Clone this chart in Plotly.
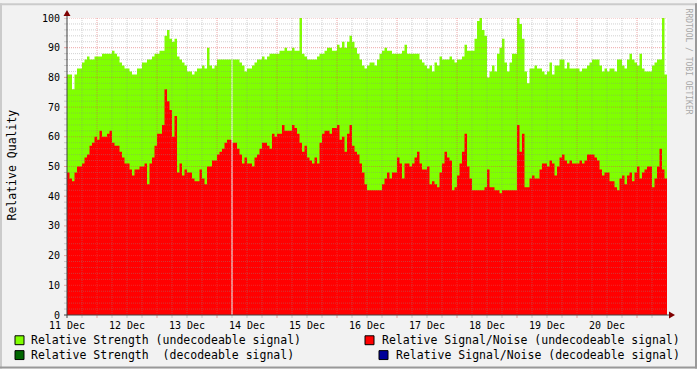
import pandas as pd
import plotly.graph_objects as go

# ---------------- data (hourly, starting 11 Dec 00:00) ----------------
start_time = "2009-12-11 00:00"
end_time = "2009-12-21 00:00"

strength_undecodeable = [
    81, 81, 76, 81, 83, 83, 85, 86, 87, 86, 86, 87, 87, 87, 88, 88, 88, 88, 89, 88, 87, 85, 84, 83,
    83, 82, 81, 81, 83, 83, 85, 85, 86, 86, 87, 88, 88, 89, 89, 94, 96, 93, 92, 93, 87, 86, 85, 84,
    82, 82, 81, 82, 83, 83, 84, 83, 90, 84, 83, 84, 86, 86, 86, 86, 86, 86, 86, 86, 86, 85, 84, 82,
    83, 83, 84, 85, 86, 86, 87, 86, 87, 88, 88, 88, 88, 89, 89, 90, 89, 89, 90, 89, 89, 100, 88, 87,
    86, 86, 86, 86, 87, 88, 88, 89, 90, 90, 89, 89, 91, 90, 92, 90, 92, 94, 92, 90, 88, 86, 84, 83,
    84, 85, 85, 84, 86, 88, 89, 90, 89, 89, 88, 88, 88, 88, 89, 91, 88, 88, 88, 88, 88, 86, 85, 84,
    83, 84, 82, 85, 84, 87, 86, 86, 86, 87, 86, 85, 86, 86, 87, 91, 89, 89, 89, 93, 99, 100, 96, 94,
    80, 82, 84, 82, 88, 90, 93, 85, 82, 85, 88, 88, 100, 98, 93, 82, 78, 83, 83, 84, 83, 83, 82, 81,
    82, 85, 81, 84, 84, 86, 86, 83, 85, 83, 83, 83, 83, 82, 83, 83, 84, 85, 86, 86, 86, 84, 82, 83,
    82, 83, 83, 82, 86, 86, 84, 83, 86, 88, 86, 85, 84, 88, 83, 82, 82, 82, 84, 85, 86, 86, 100, 81,
]

snr_undecodeable = [
    48, 46, 45, 48, 50, 50, 51, 53, 54, 57, 58, 60, 59, 62, 60, 60, 61, 62, 58, 57, 57, 55, 53, 51,
    51, 49, 47, 49, 49, 50, 50, 51, 44, 51, 53, 57, 61, 61, 64, 76, 72, 69, 60, 67, 48, 51, 47, 49,
    48, 48, 46, 45, 45, 49, 46, 44, 50, 50, 52, 52, 54, 55, 56, 58, 59, 59, 58, 58, 56, 54, 51, 53,
    51, 51, 50, 53, 54, 56, 58, 58, 57, 56, 61, 60, 61, 61, 64, 62, 62, 62, 64, 63, 61, 58, 55, 57,
    53, 52, 51, 53, 51, 58, 61, 62, 62, 61, 63, 63, 64, 59, 60, 55, 61, 64, 57, 55, 54, 51, 48, 44,
    42, 42, 42, 42, 42, 42, 44, 46, 48, 46, 48, 48, 53, 51, 46, 51, 51, 50, 51, 53, 55, 51, 49, 49,
    50, 44, 45, 44, 43, 48, 51, 55, 53, 52, 42, 43, 47, 51, 55, 61, 50, 46, 42, 42, 42, 42, 42, 43,
    49, 43, 43, 42, 42, 41, 42, 42, 42, 42, 42, 42, 64, 55, 61, 43, 43, 46, 47, 46, 46, 49, 51, 51,
    50, 52, 51, 47, 50, 53, 54, 52, 51, 52, 51, 51, 51, 52, 51, 52, 54, 54, 54, 53, 52, 49, 47, 48,
    48, 45, 45, 43, 42, 46, 47, 44, 47, 48, 45, 48, 50, 46, 48, 49, 50, 50, 43, 46, 50, 56, 49, 46,
]

strength_decodeable = []   # no decodeable samples in this period
snr_decodeable = []

gap_times = ["2009-12-13 18:00"]   # missing sample (white line)

day_ticks = ["2009-12-%02d" % d for d in range(11, 21)]
day_labels = ["11 Dec", "12 Dec", "13 Dec", "14 Dec", "15 Dec",
              "16 Dec", "17 Dec", "18 Dec", "19 Dec", "20 Dec"]
y_ticks = [0, 10, 20, 30, 40, 50, 60, 70, 80, 90, 100]

legend_names = [
    "Relative Strength (undecodeable signal)",
    "Relative Strength\u00a0\u00a0(decodeable signal)",
    "Relative Signal/Noise (undecodeable signal)",
    "Relative Signal/Noise (decodeable signal)",
]
legend_colors = ["#80FF00", "#006600", "#FF0000", "#000099"]

# ---------------- layout geometry ----------------
W, H = 697, 369
L, R, T, B = 67, 30, 15, 54
PW, PH = W - L - R, H - T - B
FONT = "DejaVu Sans Mono"


def px(x):
    return (x - L) / PW


def py(y):
    return 1 - (y - T) / PH


times = list(pd.date_range(start_time, periods=len(strength_undecodeable) + 1, freq="h"))


def step(vals):
    return list(vals) + [vals[-1]]


fig = go.Figure()
fig.add_trace(go.Scatter(x=times, y=step(strength_undecodeable), mode="lines",
                         line=dict(width=0, shape="hv"), fill="tozeroy",
                         fillcolor=legend_colors[0], hoverinfo="skip",
                         name=legend_names[0], showlegend=False))
fig.add_trace(go.Scatter(x=times[:len(strength_decodeable)], y=strength_decodeable, mode="lines",
                         line=dict(width=0, shape="hv"), fill="tozeroy",
                         fillcolor=legend_colors[1], name=legend_names[1], showlegend=False))
fig.add_trace(go.Scatter(x=times, y=step(snr_undecodeable), mode="lines",
                         line=dict(width=0, shape="hv"), fill="tozeroy",
                         fillcolor=legend_colors[2], hoverinfo="skip",
                         name=legend_names[2], showlegend=False))
fig.add_trace(go.Scatter(x=times[:len(snr_decodeable)], y=snr_decodeable, mode="lines",
                         line=dict(width=0, shape="hv"), fill="tozeroy",
                         fillcolor=legend_colors[3], name=legend_names[3], showlegend=False))

shapes = []
# missing-data gap
for g in gap_times:
    idx = times.index(pd.Timestamp(g)) if pd.Timestamp(g) in times else 0
    shapes.append(dict(type="line", xref="x", yref="y", x0=g, x1=g, y0=0,
                       y1=strength_undecodeable[idx], line=dict(color="white", width=1),
                       layer="above"))

MINOR = "rgba(140,140,140,0.40)"
MAJOR = "rgba(222,80,80,0.50)"
# vertical grid every 6 h, major at noon
for t in pd.date_range(start_time, end_time, freq="6h")[1:-1]:
    col = MAJOR if t.hour == 12 else MINOR
    shapes.append(dict(type="line", xref="x", yref="y", x0=t, x1=t, y0=0, y1=100,
                       line=dict(color=col, width=1, dash="1px,1px"), layer="above"))
    shapes.append(dict(type="line", xref="x", yref="paper", x0=t, x1=t, y0=py(315), y1=py(318),
                       line=dict(color=col, width=1), layer="above"))
# horizontal grid every 2, major every 10
for v in range(2, 101, 2):
    col = MAJOR if v % 10 == 0 else MINOR
    shapes.append(dict(type="line", xref="paper", yref="y", x0=0, x1=1, y0=v, y1=v,
                       line=dict(color=col, width=1, dash="1px,1px"), layer="above"))
    shapes.append(dict(type="line", xref="paper", yref="y", x0=px(64), x1=px(67), y0=v, y1=v,
                       line=dict(color=col, width=1), layer="above"))

AX = "#404040"
shapes.append(dict(type="line", xref="paper", yref="paper", x0=0, x1=0, y0=py(318), y1=py(11),
                   line=dict(color=AX, width=1), layer="above"))
shapes.append(dict(type="line", xref="paper", yref="paper", x0=px(64), x1=px(670), y0=0, y1=0,
                   line=dict(color=AX, width=1), layer="above"))
ARROW = "#7F0000"
shapes.append(dict(type="path", xref="paper", yref="paper",
                   path="M %f,%f L %f,%f L %f,%f Z" % (px(67), py(7), px(63.5), py(13), px(70.5), py(13)),
                   fillcolor=ARROW, line=dict(width=0), layer="above"))
shapes.append(dict(type="path", xref="paper", yref="paper",
                   path="M %f,%f L %f,%f L %f,%f Z" % (px(675), py(315), px(669), py(311.5), px(669), py(318.5)),
                   fillcolor=ARROW, line=dict(width=0), layer="above"))

# frame
shapes.append(dict(type="rect", xref="paper", yref="paper", x0=px(0), x1=px(W), y0=py(0), y1=py(2),
                   fillcolor="#CBCBCB", line=dict(width=0)))
shapes.append(dict(type="rect", xref="paper", yref="paper", x0=px(0), x1=px(2), y0=py(0), y1=py(H),
                   fillcolor="#CBCBCB", line=dict(width=0)))
shapes.append(dict(type="rect", xref="paper", yref="paper", x0=px(W - 2), x1=px(W), y0=py(0), y1=py(H),
                   fillcolor="#999999", line=dict(width=0)))
shapes.append(dict(type="rect", xref="paper", yref="paper", x0=px(0), x1=px(W), y0=py(H - 2), y1=py(H),
                   fillcolor="#999999", line=dict(width=0)))

annotations = []
# legend
leg_pos = [  # (square left, square top, text x, anchor)
    (15, 336, 30, "left"),
    (15, 351, 30, "left"),
    (365, 336, 681, "right"),
    (379, 351, 681, "right"),
]
for name, col, (sx, sy, tx, anc) in zip(legend_names, legend_colors, leg_pos):
    shapes.append(dict(type="rect", xref="paper", yref="paper", x0=px(sx), x1=px(sx + 9),
                       y0=py(sy), y1=py(sy + 9), fillcolor=col,
                       line=dict(color="black", width=1)))
    annotations.append(dict(text=name, xref="paper", yref="paper", x=px(tx), y=py(sy + 4.5),
                            xanchor=anc, yanchor="middle", showarrow=False, borderpad=0,
                            font=dict(family=FONT, size=11.5, color="black")))

annotations.append(dict(text="Relative Quality", xref="paper", yref="paper", x=px(12), y=py(164),
                        textangle=-90, xanchor="center", yanchor="middle", showarrow=False,
                        font=dict(family=FONT, size=11.5, color="black")))
annotations.append(dict(text="RRDTOOL / TOBI OETIKER", xref="paper", yref="paper", x=px(688), y=py(59),
                        textangle=90, xanchor="center", yanchor="middle", showarrow=False,
                        font=dict(family=FONT, size=8, color="#A8A8A8")))

fig.update_layout(
    width=W, height=H,
    margin=dict(l=L, r=R, t=T, b=B, pad=0),
    paper_bgcolor="#F2F2F2", plot_bgcolor="white",
    showlegend=False,
    shapes=shapes, annotations=annotations,
    xaxis=dict(type="date", range=[start_time, end_time], showgrid=False, zeroline=False,
               showline=False, tickvals=day_ticks, ticktext=day_labels, ticks="",
               ticklabelstandoff=3,
               tickfont=dict(family=FONT, size=10, color="black"), fixedrange=True),
    yaxis=dict(range=[0, 100], showgrid=False, zeroline=False, showline=False,
               tickvals=y_ticks, ticktext=[str(v) for v in y_ticks], ticks="",
               ticklabelstandoff=6,
               tickfont=dict(family=FONT, size=10, color="black"), fixedrange=True),
)

fig.write_html("out.html", config={"displayModeBar": False})
